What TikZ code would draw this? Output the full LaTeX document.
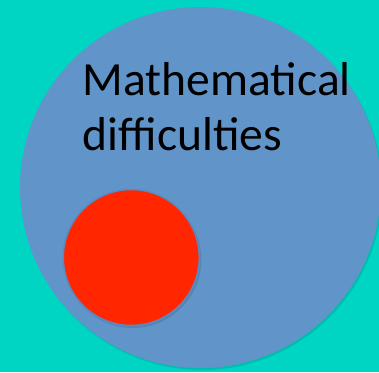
\documentclass[tikz,border=0pt]{standalone}
\usepackage{fontspec}
\setmainfont{Carlito}
\definecolor{bgteal}{HTML}{00D4C2}
\definecolor{bigblue}{HTML}{6194C8}
\definecolor{rimblue}{HTML}{5A8AC0}
\definecolor{redfill}{HTML}{FF2600}
\tikzset{
  shadowcirc/.style={fill=black, opacity=0.10},
  labeltext/.style={font=\fontsize{47.6}{55}\selectfont, inner sep=0pt, anchor=base west, text=black}
}
\begin{document}
\begin{tikzpicture}[x=1pt,y=-1pt]
\useasboundingbox (0,0) rectangle (379,372);
\fill[bgteal] (0,0) rectangle (379,372);
% big circle
\fill[shadowcirc] (202,189.5) circle (180.5);
\fill[bigblue] (200.5,187.5) circle (180.5);
\node[labeltext] (line1) at (82.5,95) {Mathematical};
\node[labeltext] (line2) at (82.5,150) {difficulties};
% red circle
\fill[shadowcirc] (132.8,259.5) circle (68.5);
\fill[redfill, draw=rimblue, line width=1.5pt] (131.3,257.5) circle (68);
\end{tikzpicture}
\end{document}
